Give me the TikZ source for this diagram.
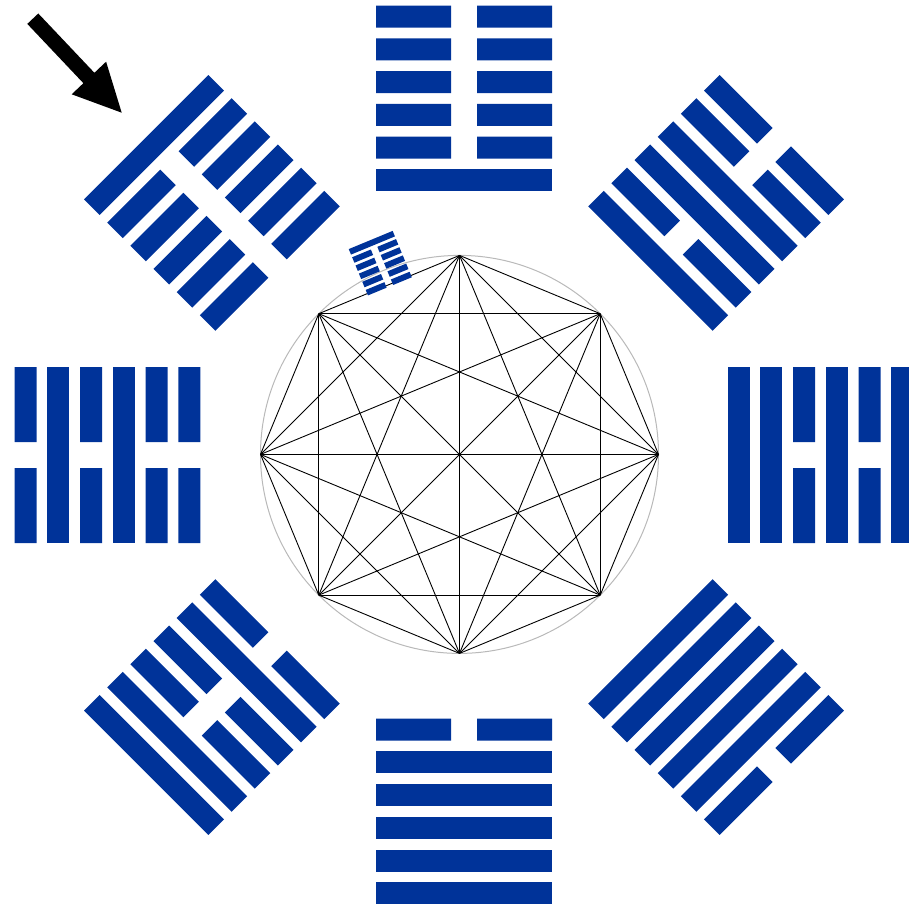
\documentclass[tikz,border=0pt]{standalone}
\definecolor{hexblue}{RGB}{0,51,153}
\definecolor{ringgray}{RGB}{185,185,185}
\tikzset{
  chord/.style={draw=black, line width=0.45pt},
  ring/.style={draw=ringgray, line width=0.5pt},
  bar/.style={fill=hexblue},
  bigarrow/.style={fill=black}
}
% #1 centre, #2 direction angle, #3 radius, #4 scale, #5 pattern inner->outer (1 solid, 0 broken)
\newcommand\drawhexa[5]{%
  \begin{scope}[shift={(#1)}, rotate=#2-90, shift={(0,#3)}, scale=#4]
    \foreach \b [count=\i] in {#5} {
      \pgfmathsetmacro\yc{(\i-3.5)*32.75}
      \ifnum\b=1
        \fill[bar] (-88,\yc-11) rectangle (88,\yc+11);
      \else
        \fill[bar] (-88,\yc-11) rectangle (-13,\yc+11) (13,\yc-11) rectangle (88,\yc+11);
      \fi
    }
  \end{scope}}
\begin{document}
\begin{tikzpicture}[x=0.5pt,y=0.5pt]
\useasboundingbox (0,0) rectangle (909,907);
\coordinate (O) at (459.5,452.6);
\coordinate (C) at (464,452);
% circle and complete octagon graph
\draw[ring] (O) circle[radius=199];
\foreach \k in {0,...,7} { \path (O) ++(\k*45:199) coordinate (v\k); }
\foreach \a in {0,...,7} {
  \foreach \b in {0,...,7} {
    \ifnum\a<\b \draw[chord] (v\a) -- (v\b); \fi
  }
}
% eight hexagrams (patterns listed from inner line to outer line)
\drawhexa{C}{90}{356.5}{1}{1,0,0,0,0,0}
\drawhexa{C}{270}{356.5}{1}{0,1,1,1,1,1}
\drawhexa{C}{180}{356.5}{1}{0,0,1,0,1,0}
\drawhexa{C}{0}{356.5}{1}{1,1,0,1,0,1}
\drawhexa{C}{135}{356.5}{1}{0,0,0,0,0,1}
\drawhexa{C}{45}{356.5}{1}{1,0,1,1,0,0}
\drawhexa{C}{225}{356.5}{1}{0,1,0,0,1,1}
\drawhexa{C}{315}{356.5}{1}{1,1,1,1,1,0}
% small hexagram on the circle
\drawhexa{O}{112.5}{207}{0.27}{0,0,0,0,0,1}
% arrow
\coordinate (t1) at (38.3,893.5);
\coordinate (t2) at (27.3,883.1);
\coordinate (s1) at (94.4,834.2);
\coordinate (s2) at (83.4,823.8);
\coordinate (b1) at (106.1,845.3);
\coordinate (b2) at (71.7,812.7);
\coordinate (tip) at (121.7,794.3);
\fill[bigarrow] (t1) -- (s1) -- (b1) -- (tip) -- (b2) -- (s2) -- (t2) -- cycle;
\end{tikzpicture}
\end{document}
